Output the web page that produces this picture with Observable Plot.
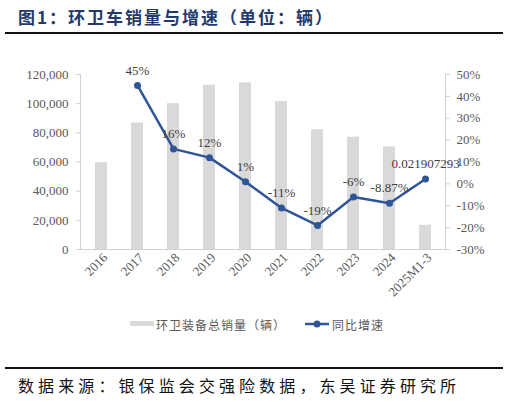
<!DOCTYPE html>
<html>
<head>
<meta charset="utf-8">
<script src="https://cdn.jsdelivr.net/npm/d3@7"></script>
<script src="https://cdn.jsdelivr.net/npm/@observablehq/plot@0.6"></script>
<style>
  body { margin: 0; background: #fff; width: 509px; height: 402px; position: relative; overflow: hidden; }
  .title { position: absolute; left: 18px; top: 4px; font: bold 17px "Noto Sans CJK SC"; color: #1f3a6b; letter-spacing: 2px; }
  .rule { position: absolute; left: 5px; width: 498px; height: 2px; background: #111; }
  #plot { position: absolute; left: 0; top: 40px; }
  .legend { position: absolute; top: 316px; left: 0; width: 509px; font: 12px "Noto Sans CJK SC"; color: #595959; letter-spacing: 1px; }
  .legend span { position: absolute; white-space: nowrap; }
  .source { position: absolute; left: 18px; top: 373px; font: 16px "Noto Sans CJK SC"; color: #111; letter-spacing: 4.1px; }
</style>
</head>
<body>
<div class="title">图1：环卫车销量与增速（单位：辆）</div>
<div class="rule" style="top:32px"></div>
<div id="plot"></div>
<div class="legend">
  <svg style="position:absolute;left:130px;top:5px" width="24" height="6"><rect width="24" height="5" fill="#d9d9d9"></rect></svg>
  <span style="left:156px;top:0">环卫装备总销量（辆）</span>
  <svg style="position:absolute;left:305px;top:2px" width="24" height="12"><line x1="0" x2="24" y1="6" y2="6" stroke="#2f5597" stroke-width="2.5"></line><circle cx="12" cy="6" r="3.5" fill="#2f5597"></circle></svg>
  <span style="left:332px;top:0">同比增速</span>
</div>
<div class="rule" style="top:367px"></div>
<div class="source">数据来源：银保监会交强险数据，东吴证券研究所</div>
<script>
const categories = ["2016", "2017", "2018", "2019", "2020", "2021", "2022", "2023", "2024", "2025M1-3"];
const sales = [59500, 86700, 100000, 112600, 114300, 101400, 82100, 77000, 70300, 16600];
const growth = [null, 45, 16, 12, 1, -11, -19, -6, -8.87, 2.19];
const growthLabels = ["", "45%", "16%", "12%", "1%", "-11%", "-19%", "-6%", "-8.87%", "0.021907293"];
const salesTicks = [0, 20000, 40000, 60000, 80000, 100000, 120000];
const pctTicks = [-30, -20, -10, 0, 10, 20, 30, 40, 50];

// right axis (-30%..50%) mapped onto the left scale (0..120000)
const toY = p => (p + 30) * 1500;
const fromY = v => v / 1500 - 30;

const bars = categories.map((c, i) => ({ cat: c, sales: sales[i] }));
const points = categories
  .map((c, i) => ({ cat: c, g: growth[i], label: growthLabels[i] }))
  .filter(d => d.g !== null);

const serif = "'Liberation Serif', 'Times New Roman', serif";
const gray = "#595959";
const axisGray = "#d0d0d0";

const chart = Plot.plot({
  width: 509,
  height: 270,
  marginTop: 34,
  marginBottom: 61,
  marginLeft: 80,
  marginRight: 64,
  style: { fontFamily: serif, fontSize: "13px", color: gray, background: "transparent" },
  x: { type: "band", domain: categories, paddingInner: 0.67, paddingOuter: 0.335, label: null },
  y: { domain: [0, 120000], label: null },
  marks: [
    Plot.barY(bars, { x: "cat", y: "sales", fill: "#d9d9d9" }),
    Plot.frame({ anchor: "left", stroke: axisGray }),
    Plot.frame({ anchor: "right", stroke: axisGray }),
    Plot.ruleY([0], { stroke: axisGray }),
    Plot.axisY({
      anchor: "left", ticks: salesTicks, tickFormat: d3.format(","),
      tickSize: 4, tickPadding: 8, stroke: axisGray, color: gray, label: null
    }),
    Plot.axisY({
      anchor: "right", ticks: pctTicks.map(toY), tickFormat: d => Math.round(fromY(d)) + "%",
      tickSize: 4, tickPadding: 7, stroke: axisGray, color: gray, label: null
    }),
    Plot.axisX({
      tickSize: 0, tickPadding: 6, tickRotate: -45, textAnchor: "end", dx: 4,
      color: gray, label: null
    }),
    Plot.line(points, { x: "cat", y: d => toY(d.g), stroke: "#2f5597", strokeWidth: 2.5 }),
    Plot.dot(points, { x: "cat", y: d => toY(d.g), r: 3.5, fill: "#2f5597" }),
    Plot.text(points, {
      x: "cat", y: d => toY(d.g), text: "label", dy: -15,
      fill: "#404040", fontSize: 13
    })
  ]
});

document.getElementById("plot").append(chart);
</script>
</body>
</html>
